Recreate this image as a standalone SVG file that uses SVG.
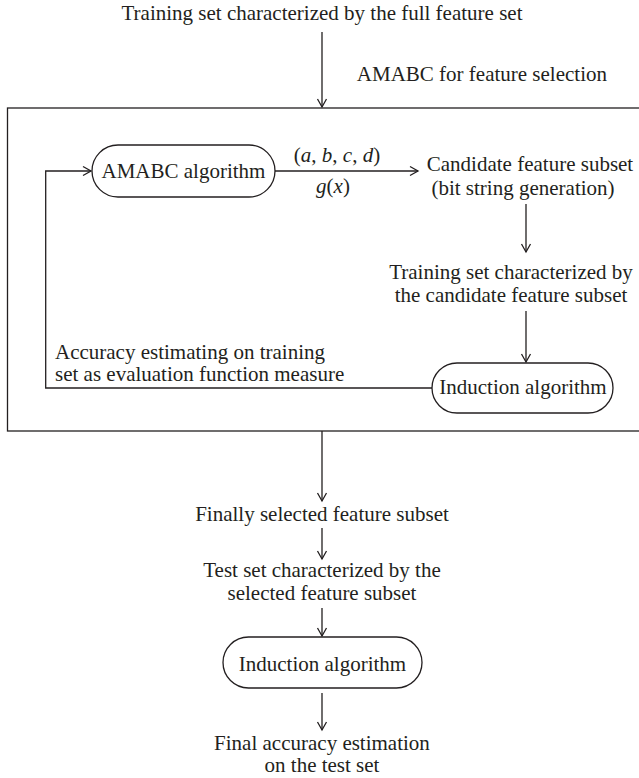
<svg xmlns="http://www.w3.org/2000/svg" width="639" height="778" viewBox="0 0 639 778">
<style>
text{font-family:"Liberation Serif","Times New Roman",serif;font-size:21px;fill:#231f20}
.m{text-anchor:middle}
.i{font-style:italic}
.ln{fill:none;stroke:#231f20;stroke-width:1.3}
.nd{fill:#fff;stroke:#231f20;stroke-width:1.3}
</style>
<defs>
<marker id="ah" markerUnits="userSpaceOnUse" markerWidth="12" markerHeight="12" viewBox="-10 -6 12 12" refX="0" refY="0" orient="auto">
<path d="M-8,-4.5 L0,0 L-8,4.5" fill="none" stroke="#231f20" stroke-width="1.3"/>
</marker>
</defs>
<g id="frame">
<rect x="7.5" y="108" width="640" height="323" class="ln"/>
<text x="607" y="81" text-anchor="end">AMABC for feature selection</text>
</g>
<g id="connectors">
<line x1="322" y1="32" x2="322" y2="107" class="ln" marker-end="url(#ah)"/>
<line x1="275" y1="171" x2="418" y2="171" class="ln" marker-end="url(#ah)"/>
<line x1="526" y1="204" x2="526" y2="252" class="ln" marker-end="url(#ah)"/>
<line x1="526" y1="311" x2="526" y2="362" class="ln" marker-end="url(#ah)"/>
<polyline points="432,388 45.7,388 45.7,171 91,171" class="ln" marker-end="url(#ah)"/>
<line x1="322" y1="431" x2="322" y2="501" class="ln" marker-end="url(#ah)"/>
<line x1="322" y1="528" x2="322" y2="559" class="ln" marker-end="url(#ah)"/>
<line x1="322" y1="608" x2="322" y2="636" class="ln" marker-end="url(#ah)"/>
<line x1="322" y1="693" x2="322" y2="730" class="ln" marker-end="url(#ah)"/>
<text x="337" y="162" class="m">(<tspan class="i">a</tspan>, <tspan class="i">b</tspan>, <tspan class="i">c</tspan>, <tspan class="i">d</tspan>)</text>
<text x="333" y="193" class="m"><tspan class="i">g</tspan>(<tspan class="i">x</tspan>)</text>
<text x="55" y="359">Accuracy estimating on training</text>
<text x="55" y="381">set as evaluation function measure</text>
</g>
<g id="n-train-full">
<text x="322" y="20" class="m">Training set characterized by the full feature set</text>
</g>
<g id="n-amabc">
<rect x="92" y="145" width="183" height="52" rx="26" class="nd"/>
<text x="183.5" y="178" class="m">AMABC algorithm</text>
</g>
<g id="n-candidate">
<text x="530" y="171" class="m">Candidate feature subset</text>
<text x="523" y="194.5" class="m">(bit string generation)</text>
</g>
<g id="n-train-cand">
<text x="511" y="279" class="m">Training set characterized by</text>
<text x="511" y="302" class="m">the candidate feature subset</text>
</g>
<g id="n-induction1">
<rect x="432" y="363" width="181" height="50" rx="25" class="nd"/>
<text x="523" y="394" class="m">Induction algorithm</text>
</g>
<g id="n-final-subset">
<text x="322" y="521" class="m">Finally selected feature subset</text>
</g>
<g id="n-test">
<text x="322" y="577" class="m">Test set characterized by the</text>
<text x="322" y="600" class="m">selected feature subset</text>
</g>
<g id="n-induction2">
<rect x="223" y="637" width="199" height="51" rx="25.5" class="nd"/>
<text x="322.5" y="671" class="m">Induction algorithm</text>
</g>
<g id="n-final-acc">
<text x="322" y="750" class="m">Final accuracy estimation</text>
<text x="322" y="772" class="m">on the test set</text>
</g>
</svg>
